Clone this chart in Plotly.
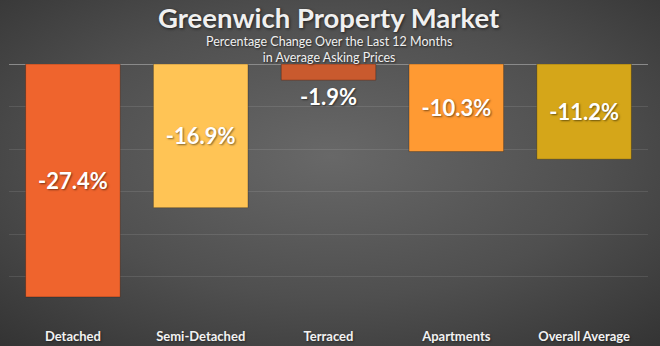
import plotly.graph_objects as go
import base64

categories = ["Detached", "Semi-Detached", "Terraced", "Apartments", "Overall Average"]
changes = [-27.4, -16.9, -1.9, -10.3, -11.2]
bar_colors = ["#EF642D", "#FFC455", "#C95A2E", "#FF9A33", "#D5A619"]
labels = [f"{v:.1f}%" for v in changes]

W, H = 660, 346
ml, mr, mt, mb = 9, 12, 64, 27
pw, ph = W - ml - mr, H - mt - mb

svg = f"""<svg xmlns='http://www.w3.org/2000/svg' width='{W}' height='{H}' viewBox='0 0 {W} {H}'>
<defs><radialGradient id='g' cx='0.5' cy='0.45' r='0.75'>
<stop offset='0' stop-color='#686868'/><stop offset='0.55' stop-color='#4f4f4f'/><stop offset='1' stop-color='#333333'/>
</radialGradient></defs>
<rect width='{W}' height='{H}' fill='url(#g)'/>
</svg>"""
bg_uri = "data:image/svg+xml;base64," + base64.b64encode(svg.encode()).decode()

fig = go.Figure()
fig.add_trace(go.Bar(
    x=categories, y=changes,
    marker=dict(color=bar_colors, line=dict(color="rgba(0,0,0,0.25)", width=1)),
    width=0.74,
    text=labels,
    textposition="auto",
    insidetextanchor="middle",
    textangle=0,
    textfont=dict(family="Lato", size=22, color="white", weight="bold",
                  shadow="1px 1px 2px rgba(0,0,0,0.5)"),
    cliponaxis=False,
    hoverinfo="skip",
))

fig.update_layout(
    width=W, height=H,
    margin=dict(l=ml, r=mr, t=mt, b=mb),
    paper_bgcolor="#444444",
    plot_bgcolor="rgba(0,0,0,0)",
    showlegend=False,
    bargap=0.26,
    images=[dict(source=bg_uri, xref="paper", yref="paper",
                 x=-ml / pw, y=1 + mt / ph, sizex=W / pw, sizey=H / ph,
                 sizing="stretch", xanchor="left", yanchor="top", layer="below")],
    xaxis=dict(showgrid=False, showline=False, ticks="", zeroline=False,
               automargin=False, ticklabelstandoff=8,
               tickfont=dict(family="Lato", size=13, color="#f2f2f2", weight="bold",
                             shadow="1px 1px 2px rgba(0,0,0,0.4)"),
               side="bottom"),
    yaxis=dict(range=[-30, 0], dtick=5, showticklabels=False, ticks="",
               automargin=False,
               showgrid=True, gridcolor="rgba(255,255,255,0.1)", gridwidth=1,
               zeroline=False, showline=False),
    shapes=[dict(type="line", xref="paper", yref="y", x0=0, x1=1, y0=0, y1=0,
                 line=dict(color="#8a8a8a", width=2), layer="below")],
    annotations=[
        dict(text="Greenwich Property Market", xref="paper", yref="paper",
             x=0.5, y=1 + (mt - 17) / ph, xanchor="center", yanchor="middle",
             showarrow=False, borderpad=0,
             font=dict(family="Lato", size=27.5, color="#f0f0f0", weight="bold",
                       shadow="1px 1px 3px rgba(0,0,0,0.6)")),
        dict(text="Percentage Change Over the Last 12 Months<br>in Average Asking Prices",
             xref="paper", yref="paper",
             x=0.5, y=1 + (mt - 49) / ph, xanchor="center", yanchor="middle",
             showarrow=False, borderpad=0,
             font=dict(family="Lato", size=12.5, color="#f0f0f0",
                       shadow="1px 1px 2px rgba(0,0,0,0.6)")),
    ],
)

fig.write_html("out.html")
